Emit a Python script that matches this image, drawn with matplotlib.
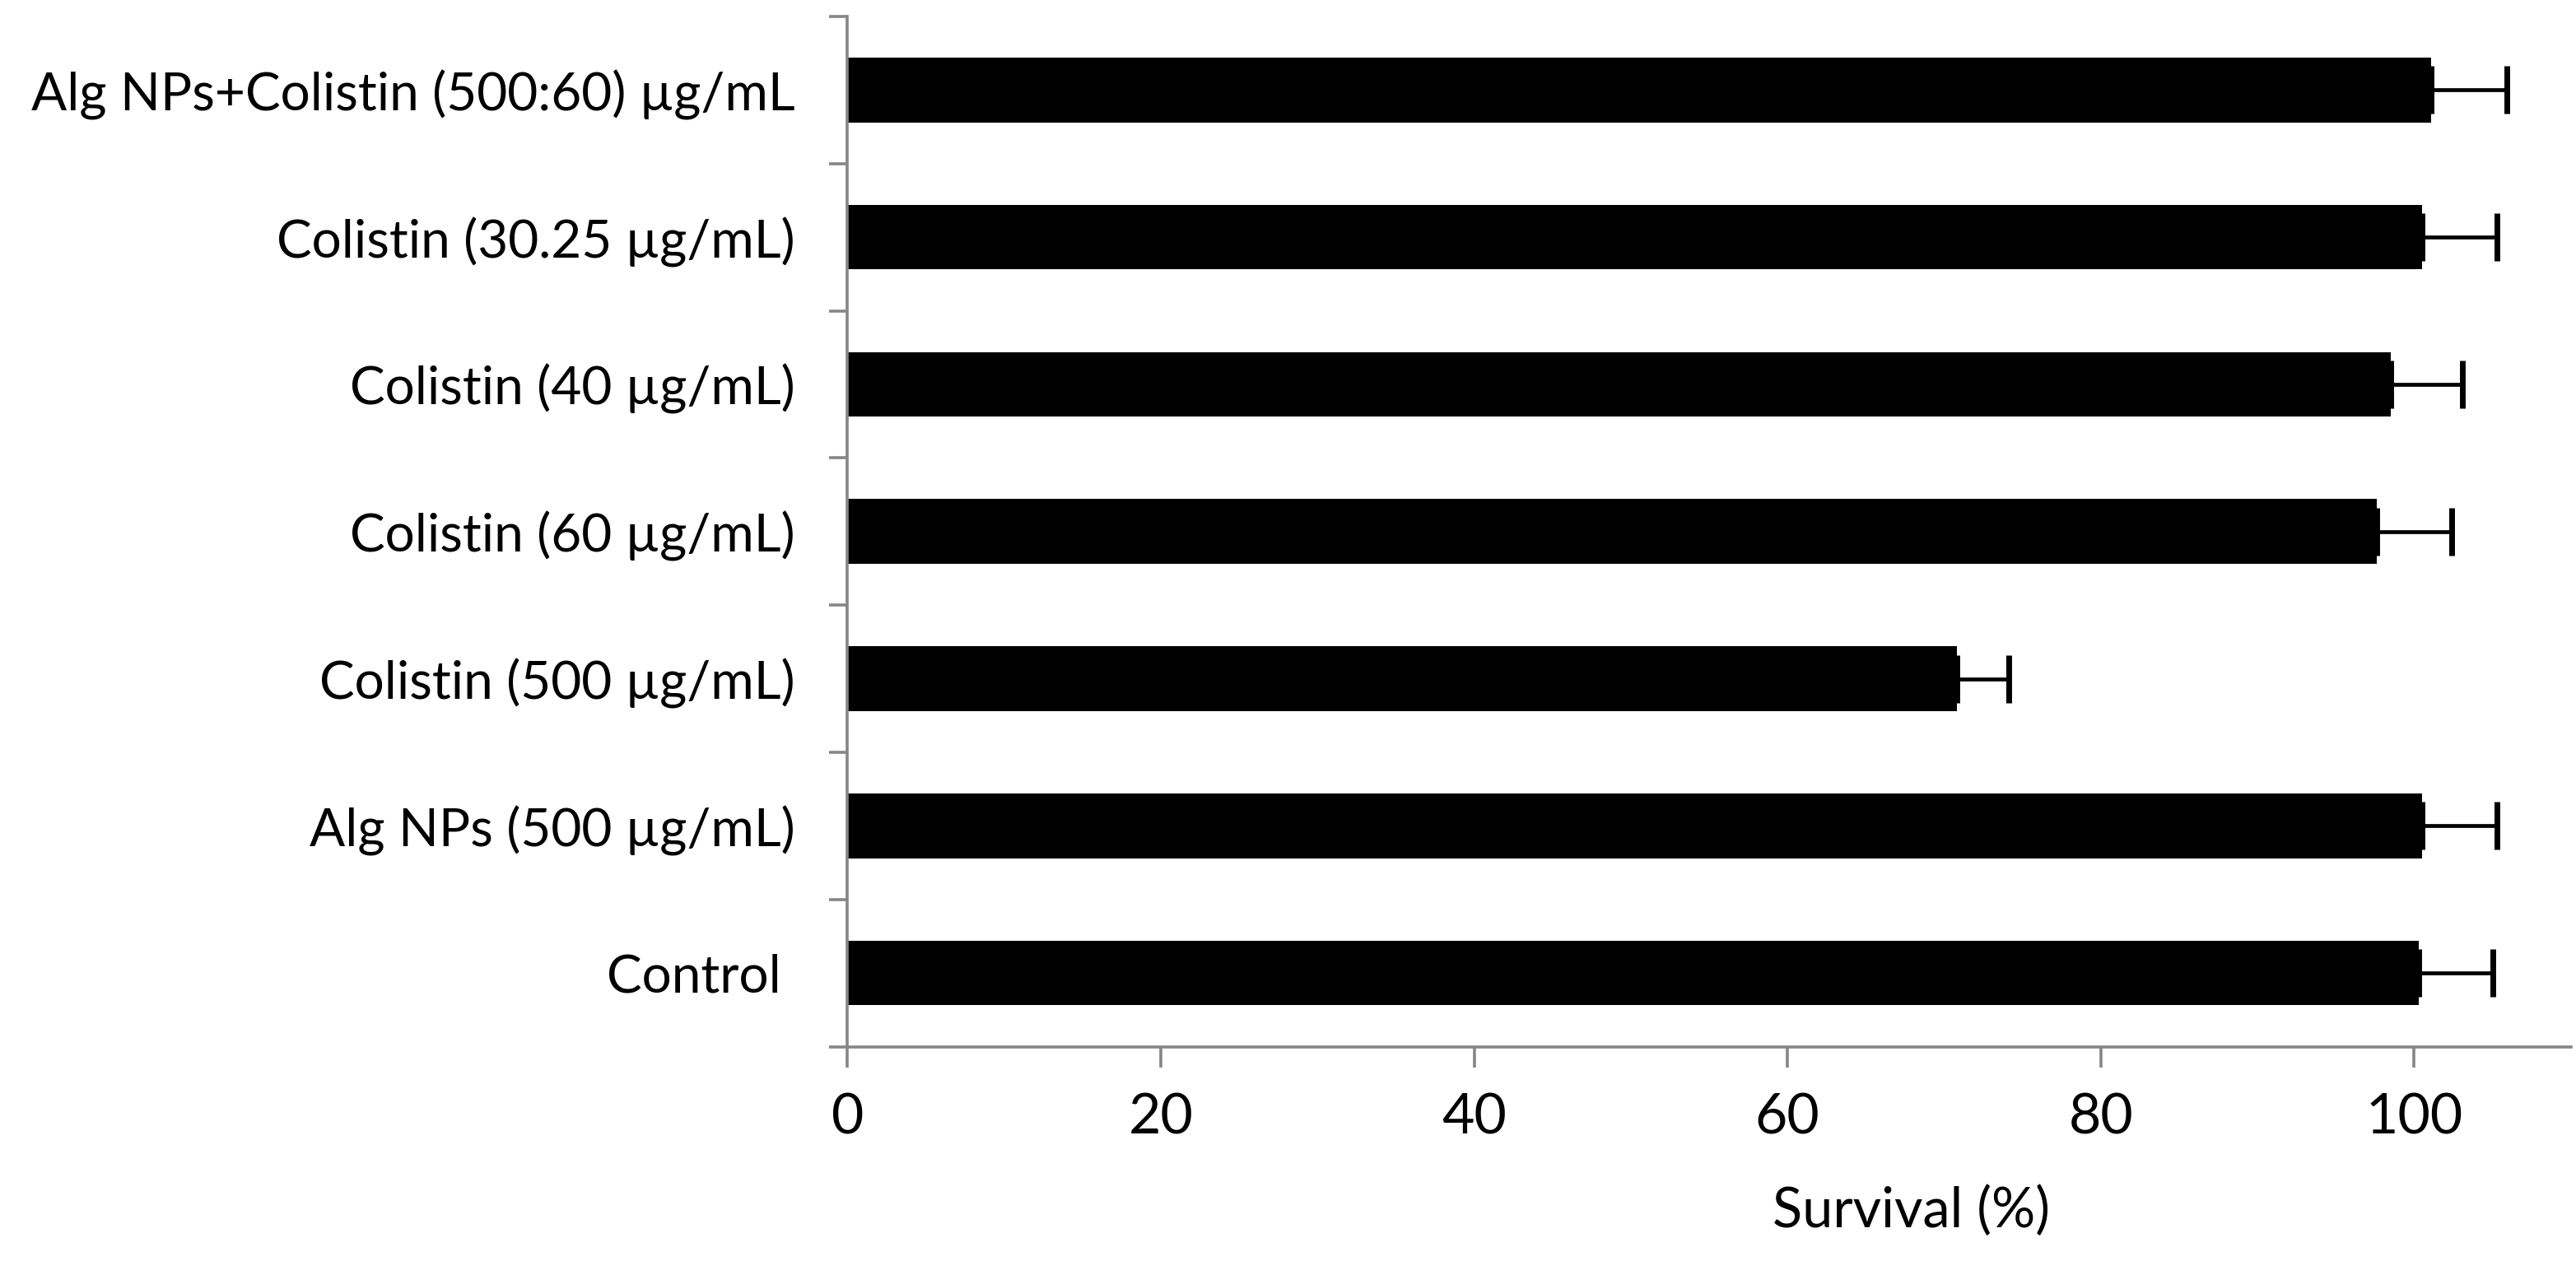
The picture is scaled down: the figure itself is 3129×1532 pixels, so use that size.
import numpy as np
import matplotlib.pyplot as plt
from matplotlib.ticker import FixedLocator

# 數據（由下而上）
groups = ['Control ', 'Alg NPs (500 µg/mL)', 'Colistin (500 µg/mL)',
          'Colistin (60 µg/mL)', 'Colistin (40 µg/mL)',
          'Colistin (30.25 µg/mL)', 'Alg NPs+Colistin (500:60) µg/mL']
survival = [100.3, 100.5, 70.8, 97.6, 98.5, 100.5, 101.1]
errors = [4.7, 4.8, 3.3, 4.8, 4.6, 4.8, 4.8]
x_ticks = [0, 20, 40, 60, 80, 100]

plt.rcParams['font.family'] = ['Lato', 'DejaVu Sans']

axis_grey = '#868686'

fig = plt.figure(figsize=(31.29, 15.32), dpi=100)
ax = fig.add_axes([0.329, 0.170, 0.669, 0.817])

pos = np.arange(len(groups))
ax.barh(pos, survival, height=0.44, color='black', zorder=2)
ax.errorbar(survival, pos, xerr=[np.zeros(len(errors)), errors],
            fmt='none', ecolor='black', elinewidth=3.4, capsize=21,
            capthick=5, zorder=3)

ax.set_xlim(0, 110)
ax.set_ylim(-0.5, len(groups) - 0.5)

ax.set_xticks(x_ticks)
ax.set_yticks(pos)
ax.set_yticklabels(groups)
ax.yaxis.set_minor_locator(FixedLocator(np.arange(-0.5, len(groups), 1.0)))

for side in ['top', 'right']:
    ax.spines[side].set_visible(False)
for side in ['left', 'bottom']:
    ax.spines[side].set_color(axis_grey)
    ax.spines[side].set_linewidth(2.6)

ax.tick_params(axis='y', which='major', length=0, pad=46, labelsize=46)
ax.tick_params(axis='y', which='minor', length=16, width=2.6,
               color=axis_grey, direction='out')
ax.tick_params(axis='x', which='major', length=18, width=2.6,
               color=axis_grey, direction='out', pad=22, labelsize=49)

ax.set_xlabel('Survival (%)', fontsize=48, labelpad=18)
ax.xaxis.set_label_coords(0.617, -0.135)

fig.savefig('out.png', dpi=100, facecolor='white')
